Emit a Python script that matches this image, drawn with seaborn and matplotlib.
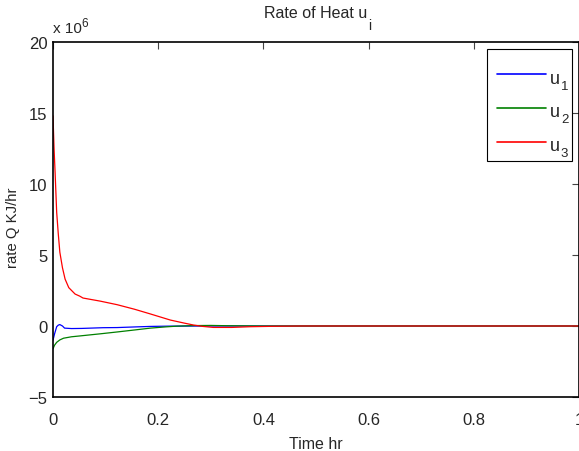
import numpy as np
import pandas as pd
import matplotlib
matplotlib.use("Agg")
import matplotlib.pyplot as plt
from matplotlib.patches import Rectangle
import seaborn as sns

# values in units of 1e6 KJ/hr
t_u1 = [0.0, 0.003, 0.007, 0.010, 0.013, 0.018, 0.022, 0.035, 0.055, 0.095, 0.122, 0.16, 0.185, 0.22, 0.3, 0.5, 0.7, 1.0]
u1 = [-1.0, -0.55, -0.05, 0.06, 0.10, 0.0, -0.15, -0.18, -0.17, -0.12, -0.11, -0.06, -0.03, -0.01, 0.0, 0.0, 0.0, 0.0]

t_u2 = [0.0, 0.003, 0.007, 0.013, 0.020, 0.035, 0.051, 0.09, 0.122, 0.155, 0.185, 0.215, 0.236, 0.27, 0.3, 0.33, 0.4, 0.6, 1.0]
u2 = [-1.6, -1.35, -1.15, -0.98, -0.86, -0.76, -0.70, -0.55, -0.42, -0.28, -0.15, -0.06, -0.01, 0.03, 0.04, 0.02, 0.0, 0.0, 0.0]

t_u3 = [0.0, 0.002, 0.004, 0.007, 0.010, 0.013, 0.018, 0.023, 0.030, 0.042, 0.051, 0.057, 0.09, 0.122, 0.155, 0.185, 0.223, 0.25, 0.267, 0.285, 0.305, 0.34, 0.375, 0.42, 0.47, 0.6, 1.0]
u3 = [14.8, 12.5, 10.8, 8.0, 6.5, 5.2, 4.1, 3.3, 2.7, 2.25, 2.1, 1.97, 1.75, 1.50, 1.18, 0.85, 0.42, 0.20, 0.07, -0.03, -0.10, -0.10, -0.05, -0.02, 0.0, 0.0, 0.0]

series = ["u1", "u2", "u3"]
subscripts = ["1", "2", "3"]
colors = ["#0000ff", "#008000", "#ff0000"]

xticks = [0, 0.2, 0.4, 0.6, 0.8, 1]
xticklabels = ["0", "0.2", "0.4", "0.6", "0.8", "1"]
yticks = [-5, 0, 5, 10, 15, 20]
yticklabels = ["\u22125", "0", "5", "10", "15", "20"]

frames = []
for t, v, lab in zip([t_u1, t_u2, t_u3], [u1, u2, u3], series):
    frames.append(pd.DataFrame({"t": t, "v": v, "series": lab}))
df = pd.concat(frames, ignore_index=True)

sns.set_style("white")
plt.rcParams["font.family"] = ["Liberation Sans", "DejaVu Sans"]

W, H = 579, 452
fig = plt.figure(figsize=(W / 100, H / 100), dpi=100)
ax = fig.add_axes([53 / W, 54 / H, 526 / W, 355 / H])

sns.lineplot(data=df, x="t", y="v", hue="series", palette=dict(zip(series, colors)),
             hue_order=series, ax=ax, linewidth=0.9, sort=False, estimator=None)

ax.set_xlim(0, 1)
ax.set_ylim(-5, 20)
ax.set_xticks(xticks)
ax.set_xticklabels(xticklabels)
ax.set_yticks(yticks)
ax.set_yticklabels(yticklabels)
ax.tick_params(direction="in", length=5, width=0.8, color="#444444",
               top=True, right=True, labelsize=12)
ax.tick_params(axis="x", pad=11)
ax.tick_params(axis="y", pad=4)
for s in ax.spines.values():
    s.set_color("black")
    s.set_linewidth(1.2)

ax.set_xlabel("Time hr", fontsize=11.5, labelpad=6)
ax.set_ylabel("rate Q KJ/hr", fontsize=10.7)
ax.yaxis.set_label_coords(-0.062, 0.479)

title = ax.set_title("Rate of Heat u", fontsize=11.5, pad=18)
ax.annotate("i", xy=(1, 0), xycoords=title, xytext=(0.5, -6.5),
            textcoords="offset points", fontsize=10, ha="left", va="baseline")

off = ax.text(0.0, 1 + 10 / 355, "x 10", transform=ax.transAxes,
              fontsize=11, ha="left", va="baseline")
ax.annotate("6", xy=(1, 0), xycoords=off, xytext=(-0.5, 6.5),
            textcoords="offset points", fontsize=8.5, ha="left", va="baseline")

handles, _ = ax.get_legend_handles_labels()
leg = ax.legend(handles, ["u", "u", "u"], loc="upper right",
                bbox_to_anchor=(570 / W, 1 - 57 / H), bbox_transform=fig.transFigure,
                borderaxespad=0, fontsize=13, frameon=False,
                handlelength=2.7, handleheight=1.5,
                labelspacing=0.64, borderpad=0.55, handletextpad=0.25)
for line in leg.get_lines():
    line.set_linewidth(1.2)
leg.set_zorder(5)

# legend box outline (MATLAB style)
fig.patches.append(Rectangle((487 / W, 1 - 162 / H), 85 / W, 112 / H,
                             transform=fig.transFigure, fill=False,
                             edgecolor="black", linewidth=0.8, zorder=6))

fig.canvas.draw()
for txt, sub in zip(leg.get_texts(), subscripts):
    ax.annotate(sub, xy=(1, 0), xycoords=txt, xytext=(0.6, -1.2),
                textcoords="offset points", fontsize=9.5, ha="left",
                va="baseline", zorder=10, annotation_clip=False)

fig.savefig("out.png", dpi=100)
